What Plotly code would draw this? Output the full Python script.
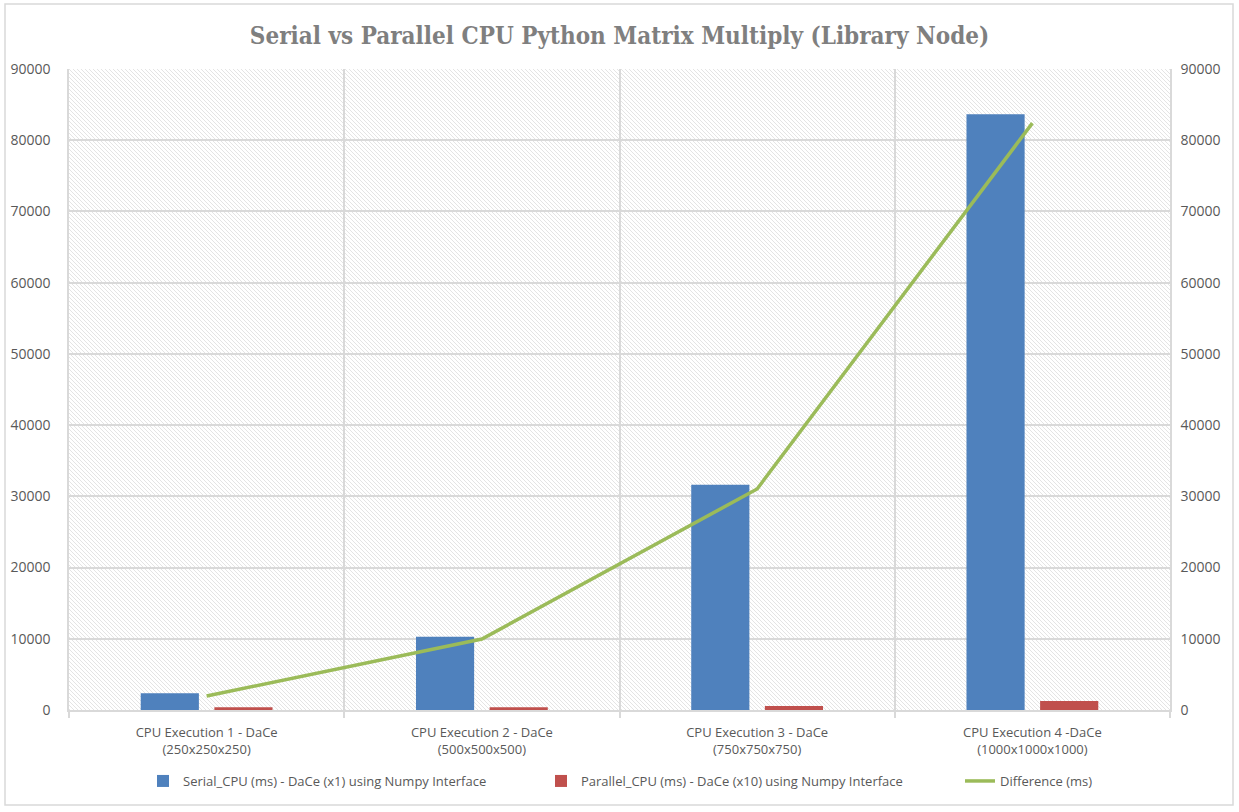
import base64
import plotly.graph_objects as go

categories = [
    "CPU Execution 1 - DaCe<br>(250x250x250)",
    "CPU Execution 2 - DaCe<br>(500x500x500)",
    "CPU Execution 3 - DaCe<br>(750x750x750)",
    "CPU Execution 4 -DaCe<br>(1000x1000x1000)",
]
serial_ms = [2350, 10300, 31640, 83660]
parallel_ms = [380, 380, 560, 1260]
difference_ms = [1970, 9970, 31040, 82400]
y_ticks = [0, 10000, 20000, 30000, 40000, 50000, 60000, 70000, 80000, 90000]
y_tick_text = [str(v) for v in y_ticks]

W, H = 1239, 812
ML, MR, MT, MB = 69, 69, 69, 102
PW, PH = W - ML - MR, H - MT - MB

TXT = "#595959"
GRID = "#d9d9d9"
FONT = "Open Sans, Liberation Sans, sans-serif"

xpos = list(range(len(categories)))

fig = go.Figure()
fig.add_trace(go.Bar(
    x=xpos, y=serial_ms, name="Serial_CPU (ms) - DaCe (x1) using Numpy Interface",
    marker=dict(color="#4F81BD", line=dict(width=0)), legend="legend",
))
fig.add_trace(go.Bar(
    x=xpos, y=parallel_ms, name="Parallel_CPU (ms) - DaCe (x10) using Numpy Interface",
    marker=dict(color="#C0504D", line=dict(width=0)), legend="legend2",
))
fig.add_trace(go.Scatter(
    x=xpos, y=difference_ms, name="Difference (ms)", mode="lines",
    line=dict(color="#9BBB59", width=3.5), yaxis="y2", legend="legend3",
))

# hatched plot background as an inline SVG image
svg = f'''<svg xmlns="http://www.w3.org/2000/svg" width="{PW}" height="{PH}" viewBox="0 0 {PW} {PH}" preserveAspectRatio="none">
<defs><pattern id="p" patternUnits="userSpaceOnUse" width="4" height="4">
<path d="M-1,-1 L5,5 M-1,3 L1,5 M3,-1 L5,1" stroke="#e4e4e4" stroke-width="1"/></pattern></defs>
<rect width="{PW}" height="{PH}" fill="#ffffff"/><rect width="{PW}" height="{PH}" fill="url(#p)"/></svg>'''
src = "data:image/svg+xml;base64," + base64.b64encode(svg.encode()).decode()


def leg(px):
    return dict(
        orientation="h", x=(px - ML) / PW, xanchor="left",
        y=-(781 - (MT + PH)) / PH, yanchor="middle",
        font=dict(size=13, color=TXT), itemwidth=30, bgcolor="rgba(0,0,0,0)",
    )


fig.update_layout(
    width=W, height=H,
    margin=dict(l=ML, r=MR, t=MT, b=MB, pad=0, autoexpand=False),
    paper_bgcolor="white", plot_bgcolor="white",
    barmode="group", bargap=0.465, bargroupgap=0.21,
    title=dict(
        text="<b>Serial vs Parallel CPU Python Matrix Multiply (Library Node)</b>",
        x=0.5, xanchor="center", y=1 - 36 / H, yanchor="middle",
        font=dict(family="DejaVu Serif Condensed, DejaVu Serif, serif", size=24, color="#7f7f7f"),
    ),
    font=dict(family=FONT, size=13, color=TXT),
    xaxis=dict(
        range=[-0.5, len(categories) - 0.5],
        tickmode="array", tickvals=xpos, ticktext=categories,
        showgrid=False, ticks="", zeroline=False,
        showline=True, linecolor=GRID, linewidth=1.5,
        tickfont=dict(size=13, color=TXT), ticklabelstandoff=10,
        minor=dict(tickmode="array", tickvals=[-0.5, 0.5, 1.5, 2.5, 3.5],
                   showgrid=True, gridcolor=GRID, gridwidth=1.5,
                   ticks="outside", ticklen=6, tickcolor=GRID, tickwidth=1.5),
    ),
    yaxis=dict(
        range=[0, 90000], tickmode="array", tickvals=y_ticks, ticktext=y_tick_text,
        showgrid=True, gridcolor=GRID, gridwidth=1.5, zeroline=False,
        showline=True, linecolor=GRID, linewidth=1.5,
        tickfont=dict(size=14, color=TXT), ticklabelstandoff=14,
    ),
    yaxis2=dict(
        range=[0, 90000], tickmode="array", tickvals=y_ticks, ticktext=y_tick_text,
        overlaying="y", side="right", showgrid=False, zeroline=False,
        showline=True, linecolor=GRID, linewidth=1.5,
        tickfont=dict(size=14, color=TXT), ticklabelstandoff=6,
    ),
    legend=leg(143),
    legend2=leg(541),
    legend3=leg(960),
    images=[dict(source=src, xref="paper", yref="paper", x=0, y=1, sizex=1, sizey=1,
                 xanchor="left", yanchor="top", sizing="stretch", layer="below")],
    shapes=[dict(type="rect", xref="paper", yref="paper",
                 x0=-(ML - 5) / PW, x1=1 + (MR - 6) / PW,
                 y0=-(MB - 7) / PH, y1=1 + (MT - 4) / PH,
                 line=dict(color="#d9d9d9", width=1.5), fillcolor="rgba(0,0,0,0)", layer="below")],
    showlegend=True,
)

fig.write_html("out.html")
